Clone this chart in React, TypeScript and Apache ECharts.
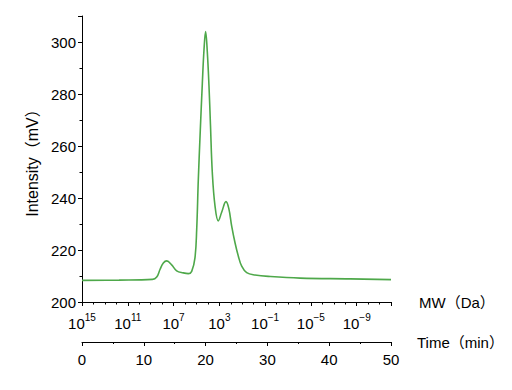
import React, { useEffect, useRef } from "react";
import * as echarts from "echarts";

// Elution time (min) and detector intensity (mV)
const timeMin: number[] = [0, 6, 11.4, 12.09, 12.62, 13.16, 13.71, 14.51, 15.32, 16.39, 17.2, 17.75, 18.28, 18.56, 18.82, 19.14, 19.47, 19.74, 20.0, 20.28, 20.55, 20.79, 21.08, 21.52, 22.05, 22.6, 23.3, 23.75, 24.22, 24.76, 25.29, 25.84, 26.65, 27.99, 30.5, 35.3, 43.4, 50];
const intensity: number[] = [208.3, 208.4, 208.7, 209.6, 212.5, 215, 215.8, 214.3, 212, 211.2, 210.9, 211.8, 217, 228, 247, 266, 284, 297, 304, 296, 283, 268, 250, 237, 231.2, 234.5, 238.6, 236, 229.2, 222.8, 217.7, 213.8, 211.3, 210.4, 209.8, 209.2, 208.9, 208.6];

// MW axis: exponent of 10 at each major tick (one every 4 decades)
const mwExponents: number[] = [15, 11, 7, 3, -1, -5, -9];
const mwTopExponent = 15;
const mwDecades = 27;

const yTicks = { min: 200, max: 310, step: 20 };
const timeTicks = { min: 0, max: 50, step: 10 };

const FONT = "'Liberation Sans', Arial, 'Noto Sans CJK JP', sans-serif";
const GREEN = "#4ea84a";

export default function App() {
  const ref = useRef<HTMLDivElement>(null);
  useEffect(() => {
    if (!ref.current) return;
    const chart = echarts.init(ref.current, null, { renderer: "svg" });
    const data = timeMin.map((t, i) => [t, intensity[i]]);
    const axisLine = { show: true, lineStyle: { color: "#000", width: 1 } };
    chart.setOption({
      animation: false,
      textStyle: { fontFamily: FONT },
      grid: { left: 82, right: 121, top: 16, bottom: 88, containLabel: false },
      xAxis: [
        {
          type: "value",
          position: "bottom",
          offset: 40,
          min: timeTicks.min,
          max: timeTicks.max,
          interval: timeTicks.step,
          axisLine,
          axisTick: { show: true, inside: false, length: 4, lineStyle: { color: "#000" } },
          minorTick: { show: true, splitNumber: 2, length: 2, lineStyle: { color: "#000" } },
          splitLine: { show: false },
          axisLabel: { fontSize: 15, color: "#000", margin: 10, fontFamily: FONT },
          name: "Time（min）",
          nameLocation: "end",
          nameGap: 26,
          nameTextStyle: { fontSize: 15, color: "#000", fontFamily: FONT },
        },
        {
          type: "value",
          position: "bottom",
          offset: 0,
          min: 0,
          max: mwDecades,
          interval: 1,
          axisLine,
          axisTick: { show: true, inside: false, length: 2.5, lineStyle: { color: "#000" } },
          splitLine: { show: false },
          axisLabel: {
            interval: 0,
            margin: 10,
            color: "#000",
            formatter: (v: number) => {
              const exp = mwTopExponent - Math.round(v);
              if (!mwExponents.includes(exp)) return "";
              return `{b|10}{s|${exp < 0 ? "−" + Math.abs(exp) : exp}}`;
            },
            rich: {
              b: { fontSize: 15, color: "#000", fontFamily: FONT, lineHeight: 19, verticalAlign: "bottom" },
              s: { fontSize: 10, color: "#000", fontFamily: FONT, lineHeight: 19, verticalAlign: "top" },
            },
          },
          name: "MW（Da）",
          nameLocation: "end",
          nameGap: 28,
          nameTextStyle: { fontSize: 15, color: "#000", fontFamily: FONT },
        },
        {
          type: "value",
          position: "bottom",
          offset: 0,
          min: 0,
          max: mwDecades,
          interval: 4,
          axisLine: { show: false },
          axisTick: { show: true, inside: false, length: 4, lineStyle: { color: "#000" } },
          splitLine: { show: false },
          axisLabel: { show: false },
        },
      ],
      yAxis: [
        {
          type: "value",
          position: "left",
          min: yTicks.min,
          max: yTicks.max,
          interval: 10,
          axisLine,
          axisTick: { show: true, inside: false, length: 2.5, lineStyle: { color: "#000" } },
          splitLine: { show: false },
          axisLabel: {
            fontSize: 15,
            color: "#000",
            margin: 6,
            fontFamily: FONT,
            formatter: (v: number) => (v % yTicks.step === 0 ? String(v) : ""),
          },
          name: "Intensity（mV）",
          nameLocation: "middle",
          nameGap: 38,
          nameRotate: 90,
          nameTextStyle: { fontSize: 16, color: "#000", fontFamily: FONT },
        },
        {
          type: "value",
          position: "left",
          offset: 0,
          min: yTicks.min,
          max: yTicks.max,
          interval: yTicks.step,
          axisLine: { show: false },
          axisTick: { show: true, inside: false, length: 4, lineStyle: { color: "#000" } },
          splitLine: { show: false },
          axisLabel: { show: false },
        },
      ],
      series: [
        {
          type: "line",
          xAxisIndex: 0,
          yAxisIndex: 0,
          data,
          showSymbol: false,
          smooth: 0.4,
          lineStyle: { color: GREEN, width: 1.6 },
          itemStyle: { color: GREEN },
        },
      ],
    });
    return () => chart.dispose();
  }, []);
  return (
    <div
      ref={ref}
      style={{ position: "fixed", left: 0, top: 0, width: 512, height: 390, background: "#fff" }}
    />
  );
}
